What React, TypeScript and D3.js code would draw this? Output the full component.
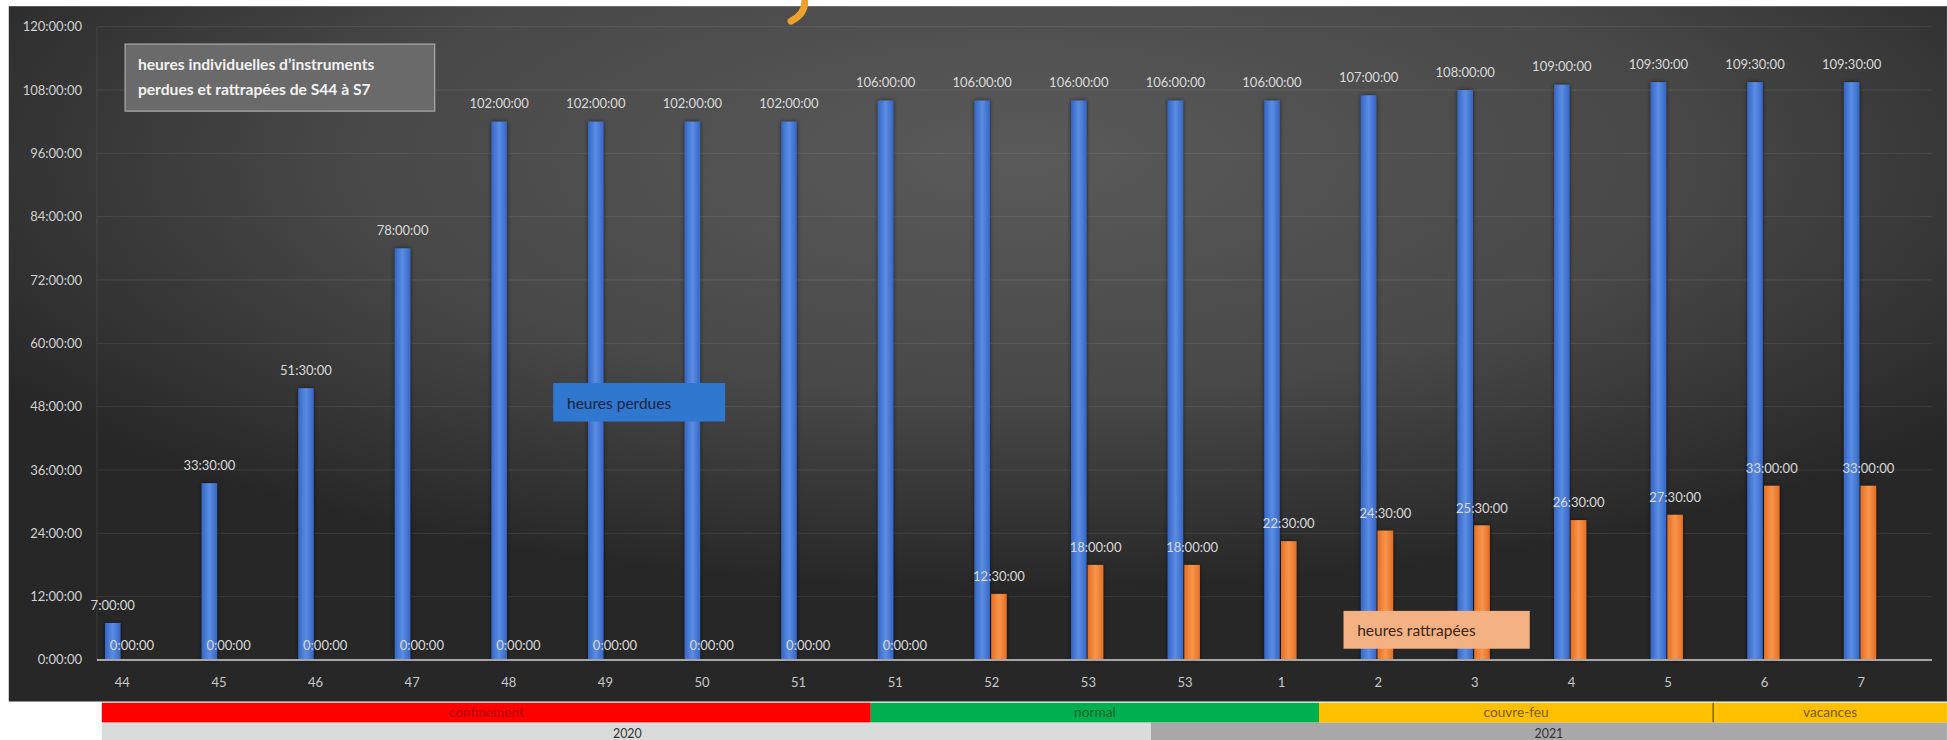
import React from "react";
import * as d3 from "d3";

// semaines (S44 2020 -> S7 2021)
const weeks = ["44", "45", "46", "47", "48", "49", "50", "51", "51", "52", "53", "53", "1", "2", "3", "4", "5", "6", "7"];
// heures perdues / rattrapées (en heures)
const perdues = [7, 33.5, 51.5, 78, 102, 102, 102, 102, 106, 106, 106, 106, 106, 107, 108, 109, 109.5, 109.5, 109.5];
const rattrapees = [0, 0, 0, 0, 0, 0, 0, 0, 0, 12.5, 18, 18, 22.5, 24.5, 25.5, 26.5, 27.5, 33, 33];
const yTicks = [0, 12, 24, 36, 48, 60, 72, 84, 96, 108, 120];

// bandeaux sous le graphique (en unités de catégorie)
const periods = ["confinement", "normal", "couvre-feu", "vacances"];
const periodSpans = [[-0.2, 7.76], [7.76, 12.4], [12.4, 16.48], [16.48, 18.95]];
const periodFill = ["#ff0000", "#00b050", "#ffc000", "#ffc000"];
const periodText = ["#b00000", "#00602a", "#7a5a00", "#7a5a00"];
const years = ["2020", "2021"];
const yearSpans = [[-0.2, 10.66], [10.66, 18.95]];
const yearLabelAt = [5.24, 14.78];
const yearFill = ["#dadcdb", "#a8a8a8"];

const fmt = (h: number) => {
  const hh = Math.floor(h);
  const mm = Math.round((h - hh) * 60);
  return `${hh}:${String(mm).padStart(2, "0")}:00`;
};

const W = 1568;
const H = 596;
const font = "Lato, 'Open Sans', sans-serif";

export default function App() {
  const x = d3.scaleBand<number>().domain(d3.range(weeks.length)).range([58.6, 1536.9]);
  const cx = (i: number) => (x(i) as number) + x.bandwidth() / 2;
  const xi = d3.scaleLinear().domain([0, 18]).range([cx(0), cx(18)]);
  const y = d3.scaleLinear().domain([0, 120]).range([531.5, 21.5]);
  const bw = 12.5;
  const gridL = 78;
  const gridR = 1556;

  return (
    <svg
      width={1947}
      height={740}
      viewBox={`0 0 ${W} ${H}`}
      style={{ position: "absolute", left: 0, top: 0, display: "block", background: "#fff" }}
    >
      <defs>
        <radialGradient id="bg" cx="52%" cy="22%" r="62%">
          <stop offset="0%" stopColor="#5a5a5a" />
          <stop offset="55%" stopColor="#484848" />
          <stop offset="100%" stopColor="#272727" />
        </radialGradient>
        <linearGradient id="gBlue" x1="0" x2="1" y1="0" y2="0">
          <stop offset="0%" stopColor="#3566c4" />
          <stop offset="50%" stopColor="#5b8de4" />
          <stop offset="100%" stopColor="#3566c4" />
        </linearGradient>
        <linearGradient id="gOrange" x1="0" x2="1" y1="0" y2="0">
          <stop offset="0%" stopColor="#e56f24" />
          <stop offset="50%" stopColor="#f8954b" />
          <stop offset="100%" stopColor="#e56f24" />
        </linearGradient>
        <filter id="sh" x="-50%" y="-5%" width="200%" height="110%">
          <feDropShadow dx="0" dy="0" stdDeviation="1.6" floodColor="#000" floodOpacity="0.6" />
        </filter>
      </defs>

      {/* fond */}
      <rect x={7} y={5} width={W - 7} height={565 - 5} fill="url(#bg)" />

      {/* fragment de titre coupé */}
      <path d="M 648 0 Q 649 11 637 17" fill="none" stroke="#eda22e" strokeWidth={5.5} strokeLinecap="round" />

      {/* grille */}
      {yTicks.map((t) => (
        <line key={t} x1={gridL} x2={gridR} y1={y(t)} y2={y(t)} stroke="#ffffff" strokeOpacity={t === 0 ? 0 : 0.07} />
      ))}
      <line x1={gridL} x2={gridL} y1={y(120)} y2={y(0)} stroke="#ffffff" strokeOpacity={0.08} />

      {/* axe Y */}
      {yTicks.map((t) => (
        <text key={t} x={66} y={y(t)} dy="0.35em" textAnchor="end" fontFamily={font} fontSize={10.5} fill="#d0d0d0">
          {fmt(t)}
        </text>
      ))}

      {/* barres */}
      {weeks.map((w, i) => (
        <g key={i} filter="url(#sh)">
          <rect x={cx(i) - 0.5 - bw} y={y(perdues[i])} width={bw} height={y(0) - y(perdues[i])} fill="url(#gBlue)" />
          {rattrapees[i] > 0 && (
            <rect x={cx(i) + 0.5} y={y(rattrapees[i])} width={bw} height={y(0) - y(rattrapees[i])} fill="url(#gOrange)" />
          )}
        </g>
      ))}

      {/* axe X */}
      <line x1={gridL} x2={gridR} y1={y(0)} y2={y(0)} stroke="#a6a6a6" strokeWidth={1.6} />
      {weeks.map((w, i) => (
        <text key={i} x={cx(i) + 1} y={550} dy="0.35em" textAnchor="middle" fontFamily={font} fontSize={10.5} fill="#c8c8c8">
          {w}
        </text>
      ))}

      {/* étiquettes de données */}
      {weeks.map((w, i) => (
        <g key={i} fontFamily={font} fontSize={10.5} fill="#dadada" textAnchor="middle">
          <text x={cx(i) - 0.5 - bw / 2} y={y(perdues[i]) - 14.5} dy="0.35em">
            {fmt(perdues[i])}
          </text>
          <text x={cx(i) + 0.5 + bw / 2 + (rattrapees[i] === 0 ? 2 : 0)} y={y(rattrapees[i]) - (rattrapees[i] === 0 ? 12 : 14)} dy="0.35em">
            {fmt(rattrapees[i])}
          </text>
        </g>
      ))}

      {/* cadres d'annotation */}
      <rect x={100.7} y={35.5} width={249.3} height={54} fill="#6a6a6a" stroke="#a8a8a8" strokeWidth={1} />
      <text x={111} y={52} dy="0.35em" fontFamily={font} fontWeight={700} fontSize={12.6} fill="#f2f2f2">
        heures individuelles d’instruments
      </text>
      <text x={111} y={72.5} dy="0.35em" fontFamily={font} fontWeight={700} fontSize={12.6} fill="#f2f2f2">
        perdues et rattrapées de S44 à S7
      </text>

      <rect x={445.5} y={308.5} width={138.5} height={31} fill="#2f77cf" />
      <text x={456.6} y={324.7} dy="0.35em" fontFamily={font} fontSize={12.5} fill="#15233d">
        heures perdues
      </text>

      <rect x={1082} y={492} width={150} height={30.5} fill="#f4b183" />
      <text x={1093} y={507.5} dy="0.35em" fontFamily={font} fontSize={12.5} fill="#3a2616">
        heures rattrapées
      </text>

      {/* bandeaux périodes */}
      {periods.map((p, k) => {
        const x0 = xi(periodSpans[k][0]);
        const x1 = Math.min(W, xi(periodSpans[k][1]));
        return (
          <g key={p}>
            <rect x={x0} y={566} width={x1 - x0} height={16} fill={periodFill[k]} />
            <text x={(x0 + x1) / 2} y={574} dy="0.35em" textAnchor="middle" fontFamily={font} fontSize={11} fill={periodText[k]}>
              {p}
            </text>
          </g>
        );
      })}
      <line x1={xi(periodSpans[3][0])} x2={xi(periodSpans[3][0])} y1={566} y2={582} stroke="#6a5000" strokeWidth={1} />

      {years.map((yr, k) => {
        const x0 = xi(yearSpans[k][0]);
        const x1 = Math.min(W, xi(yearSpans[k][1]));
        return (
          <g key={yr}>
            <rect x={x0} y={582} width={x1 - x0} height={14} fill={yearFill[k]} />
            <text x={xi(yearLabelAt[k])} y={590.5} dy="0.35em" textAnchor="middle" fontFamily={font} fontSize={10} fill="#333">
              {yr}
            </text>
          </g>
        );
      })}
    </svg>
  );
}
